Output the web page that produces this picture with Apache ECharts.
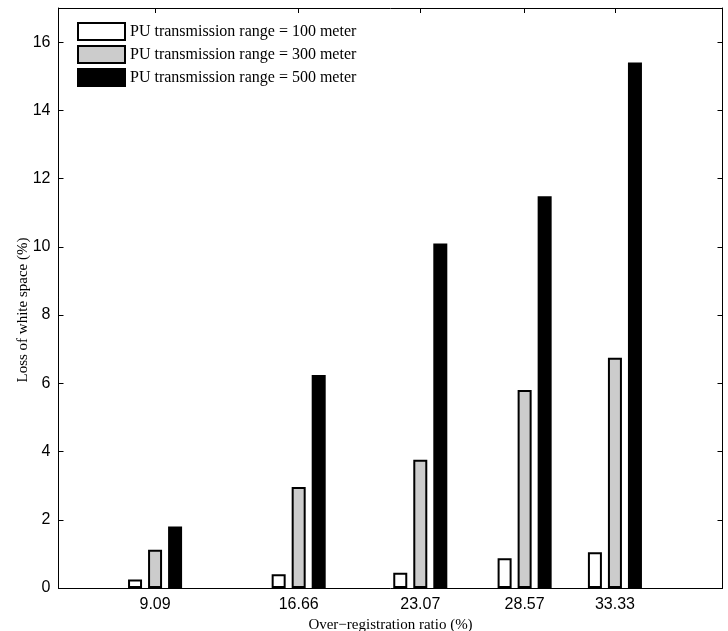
<!DOCTYPE html>
<html>
<head>
<meta charset="utf-8">
<script src="https://cdn.jsdelivr.net/npm/echarts@6/dist/echarts.min.js"></script>
<style>html,body{margin:0;padding:0;background:#fff;}#c{width:728px;height:631px;}</style>
</head>
<body>
<div id="c"></div>
<script>
const ratios = [9.09, 16.66, 23.07, 28.57, 33.33];
const range100 = [0.25, 0.40, 0.45, 0.87, 1.05];
const range300 = [1.12, 2.96, 3.76, 5.80, 6.75];
const range500 = [1.80, 6.24, 10.10, 11.48, 15.40];
const yTicks = [0, 2, 4, 6, 8, 10, 12, 14, 16];
const seriesNames = ['PU transmission range = 100 meter', 'PU transmission range = 300 meter', 'PU transmission range = 500 meter'];

const pair = arr => ratios.map((x, i) => [x, arr[i]]);
const chart = echarts.init(document.getElementById('c'));
const sans = 'Liberation Sans';
const serif = 'Liberation Serif';
const xCommon = {
  type: 'value', min: 4, max: 39,
  axisLine: { show: true, onZero: false, lineStyle: { color: '#000', width: 1 } },
  axisTick: { show: true, inside: true, length: 5, customValues: ratios, lineStyle: { color: '#000' } },
  splitLine: { show: false }
};
const yCommon = {
  type: 'value', min: 0, max: 17,
  axisLine: { show: true, lineStyle: { color: '#000', width: 1 } },
  axisTick: { show: true, inside: true, length: 5, customValues: yTicks, lineStyle: { color: '#000' } },
  splitLine: { show: false }
};
chart.setOption({
  animation: false,
  backgroundColor: '#fff',
  grid: { left: 58.5, right: 5.5, top: 8, bottom: 43, containLabel: false, outerBoundsMode: 'none' },
  legend: {
    orient: 'vertical', left: 77, top: 22, padding: 0, itemWidth: 47, itemHeight: 17, itemGap: 4,
    icon: 'rect',
    textStyle: { fontFamily: serif, fontSize: 16, lineHeight: 17, color: '#000' },
    data: seriesNames
  },
  xAxis: [
    Object.assign({}, xCommon, {
      position: 'bottom',
      name: 'Over\u2212registration ratio (%)', nameLocation: 'middle', nameGap: 27,
      nameTextStyle: { fontFamily: serif, fontSize: 15, color: '#000' },
      axisLabel: { show: true, customValues: ratios, formatter: v => v.toFixed(2), fontFamily: sans, fontSize: 16, color: '#000', margin: 9 }
    }),
    Object.assign({}, xCommon, { position: 'top', axisLabel: { show: false } })
  ],
  yAxis: [
    Object.assign({}, yCommon, {
      position: 'left',
      name: 'Loss of white space (%)', nameLocation: 'middle', nameGap: 28, nameRotate: 90,
      nameMoveOverlap: false,
      nameTextStyle: { fontFamily: serif, fontSize: 15, color: '#000', padding: [0, 24, 0, 0] },
      axisLabel: { show: true, customValues: yTicks, fontFamily: sans, fontSize: 16, color: '#000', margin: 8 }
    }),
    Object.assign({}, yCommon, { position: 'right', axisLabel: { show: false } })
  ],
  series: [
    { name: seriesNames[0], type: 'bar', data: pair(range100), barWidth: 14, barGap: '43%',
      itemStyle: { color: '#fff', borderColor: '#000', borderWidth: 2 } },
    { name: seriesNames[1], type: 'bar', data: pair(range300), barWidth: 14, barGap: '43%',
      itemStyle: { color: '#cccccc', borderColor: '#000', borderWidth: 2 } },
    { name: seriesNames[2], type: 'bar', data: pair(range500), barWidth: 14, barGap: '43%',
      itemStyle: { color: '#000', borderColor: '#000', borderWidth: 2 } }
  ]
});
</script>
</body>
</html>
